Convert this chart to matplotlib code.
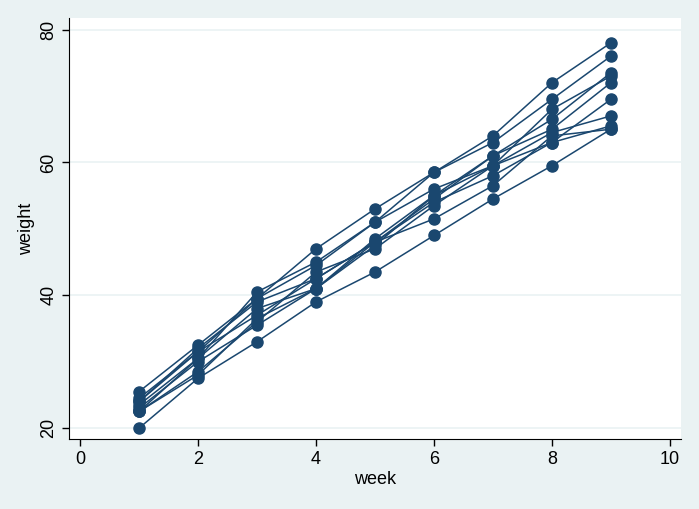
import matplotlib
matplotlib.use("Agg")
import matplotlib.pyplot as plt

plt.rcParams['font.family'] = ['Liberation Sans', 'DejaVu Sans']

# weight of pigs by week (one list per pig)
weeks = [1, 2, 3, 4, 5, 6, 7, 8, 9]
pig1 = [24.0, 32.0, 39.0, 42.5, 48.0, 54.5, 61.0, 65.0, 72.0]
pig2 = [22.5, 30.5, 40.5, 45.0, 51.0, 58.5, 64.0, 72.0, 78.0]
pig3 = [22.5, 28.0, 36.5, 41.0, 47.5, 55.0, 61.0, 66.5, 73.5]
pig4 = [24.0, 31.5, 39.5, 44.5, 51.0, 56.0, 59.5, 64.5, 67.0]
pig5 = [24.5, 31.5, 37.0, 42.5, 48.0, 54.0, 58.0, 63.0, 65.5]
pig6 = [23.0, 30.0, 35.5, 41.0, 48.0, 51.5, 56.5, 64.0, 65.0]
pig7 = [22.5, 28.5, 36.0, 43.5, 47.0, 53.5, 59.5, 68.0, 73.0]
pig8 = [23.5, 30.5, 38.0, 41.0, 48.5, 55.0, 59.5, 63.0, 69.5]
pig9 = [20.0, 27.5, 33.0, 39.0, 43.5, 49.0, 54.5, 59.5, 65.0]
pig10 = [25.5, 32.5, 39.5, 47.0, 53.0, 58.5, 63.0, 69.5, 76.0]
pigs = [pig1, pig2, pig3, pig4, pig5, pig6, pig7, pig8, pig9, pig10]

navy = '#1a476f'
bg = '#eaf2f3'

fig = plt.figure(figsize=(6.99, 5.09), dpi=100, facecolor=bg)
ax = fig.add_axes([69/699, 1-439/509, (681-69)/699, (439-18)/509])
ax.set_facecolor('white')

for p in pigs:
    ax.plot(weeks, p, color=navy, lw=1.1, marker='o', ms=8, zorder=3)

ax.set_xlim(-0.19, 10.19)
ax.set_ylim(18.35, 81.75)
ax.set_xticks([0, 2, 4, 6, 8, 10])
ax.set_yticks([20, 40, 60, 80])
ax.set_yticklabels(['20', '40', '60', '80'], rotation=90, va='center')
ax.grid(axis='y', color=bg, lw=1.2)
ax.set_axisbelow(True)

ax.spines['top'].set_visible(False)
ax.spines['right'].set_visible(False)
ax.spines['left'].set_color('black')
ax.spines['bottom'].set_color('black')
ax.tick_params(direction='out', length=5, width=1, labelsize=13, colors='black')

ax.set_xlabel('week', fontsize=13, labelpad=2)
ax.set_ylabel('weight', fontsize=13, labelpad=4)

fig.savefig('out.png', dpi=100, facecolor=bg)
